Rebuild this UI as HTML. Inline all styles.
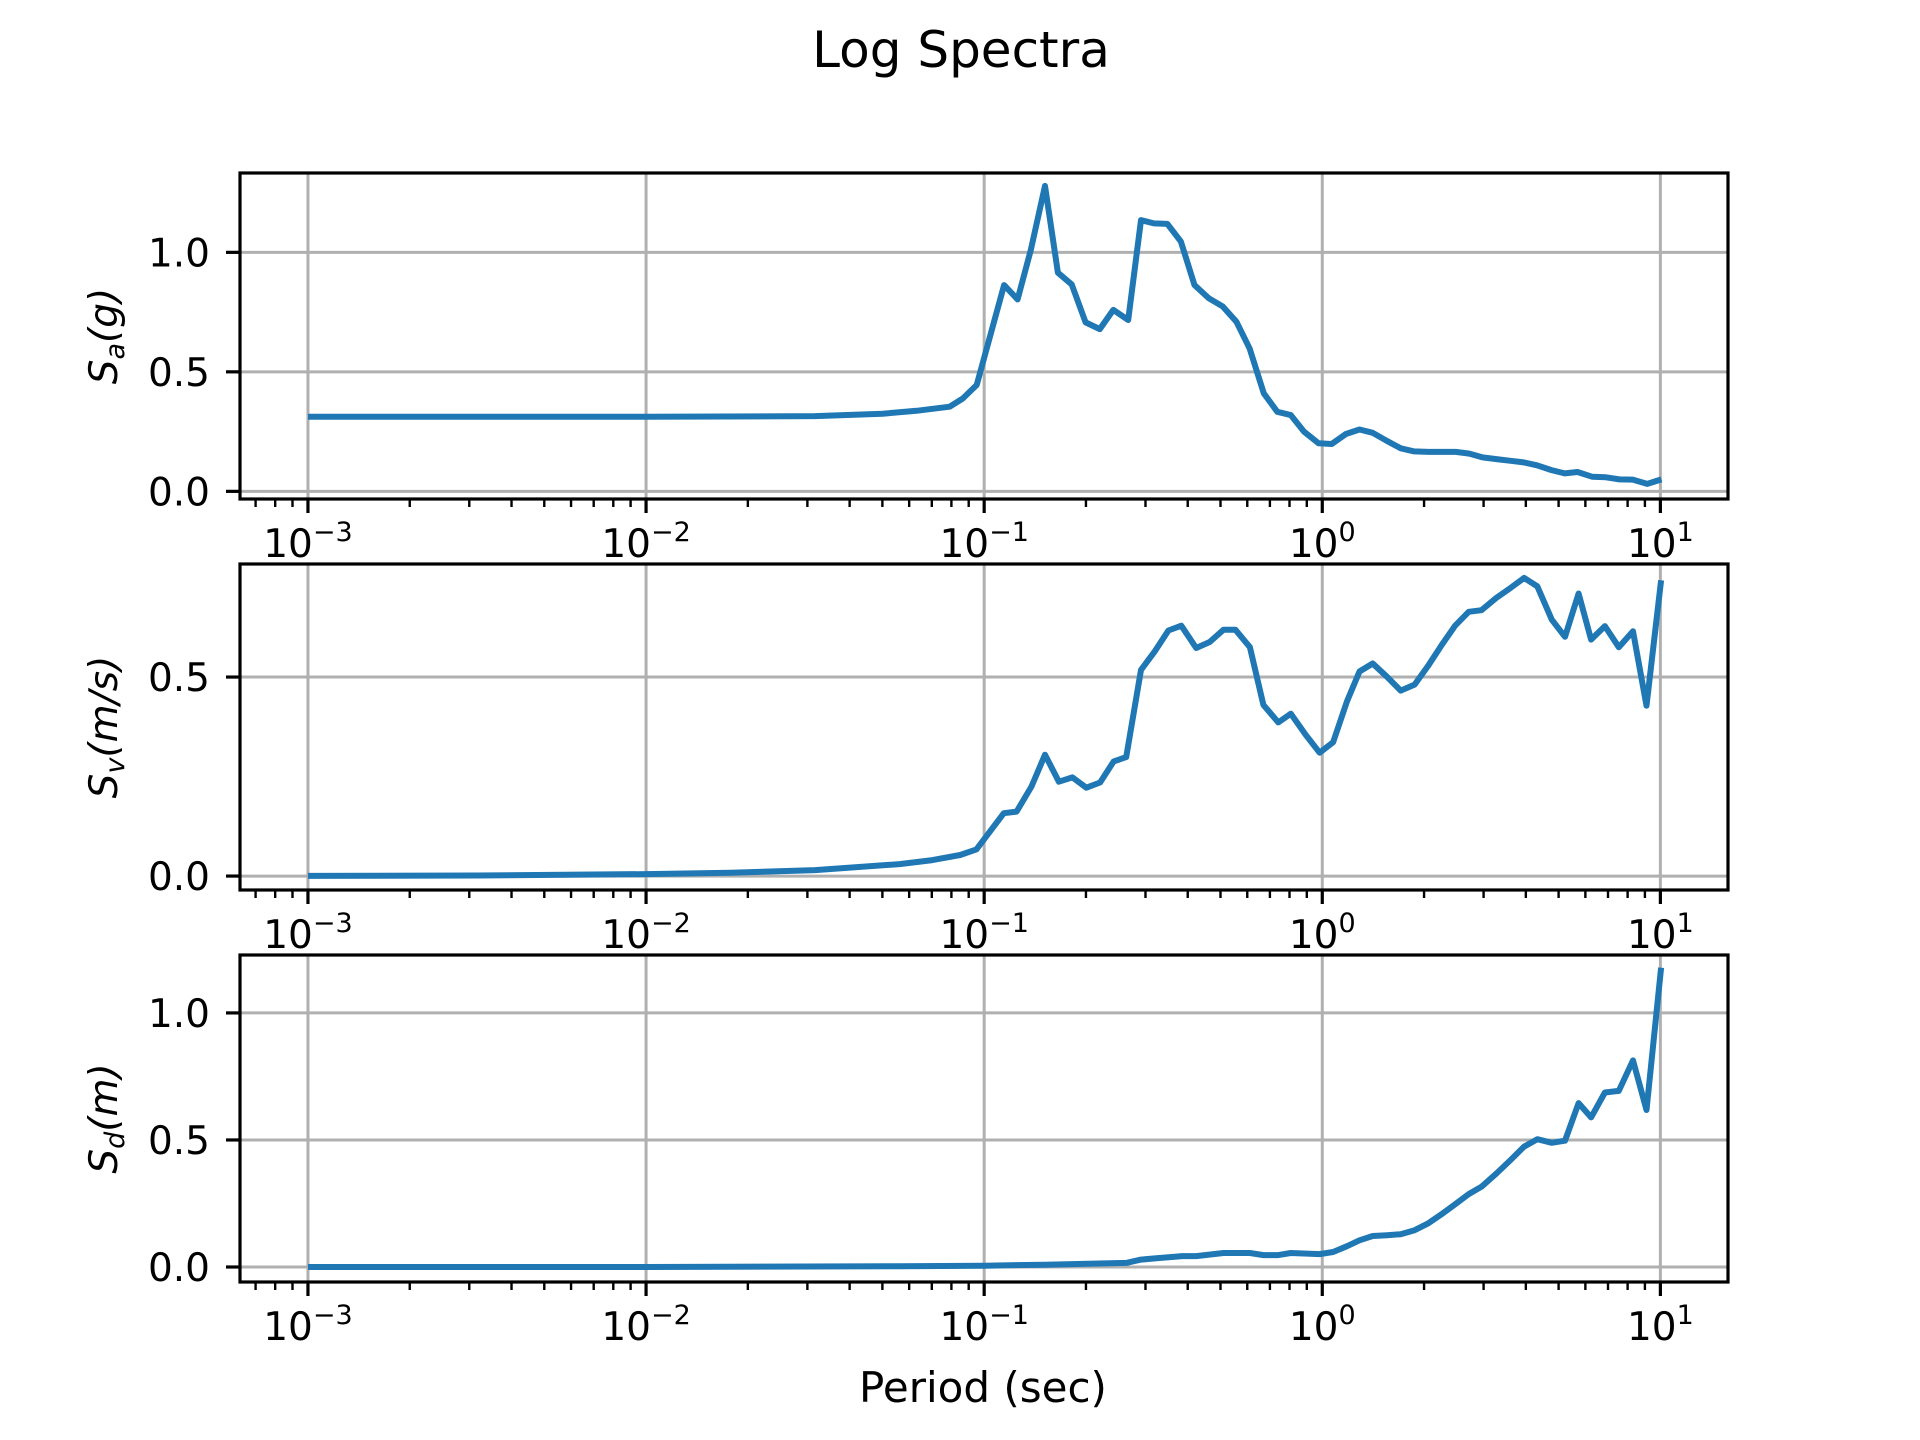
<!DOCTYPE html>
<html><head><meta charset="utf-8"><style>
html,body{margin:0;padding:0;background:#fff;}
svg{display:block;}
text{font-family:"DejaVu Sans","Liberation Sans",sans-serif;fill:#000;}
</style></head><body>
<svg id="fig" width="1920" height="1440" viewBox="0 0 1920 1440" xmlns="http://www.w3.org/2000/svg">
<rect width="1920" height="1440" fill="#fff"/>
<text x="961" y="67" font-size="50" text-anchor="middle">Log Spectra</text>
<text x="983" y="1402" font-size="42" text-anchor="middle">Period (sec)</text>
</svg>
<script>
// ---- data (log10 period, value) ----
const saLogT = [-3,-2,-1.5,-1.3,-1.2,-1.102,-1.063,-1.022,-0.941,-0.901,-0.862,-0.820,-0.782,-0.741,-0.700,-0.658,-0.618,-0.574,-0.536,-0.498,-0.458,-0.418,-0.378,-0.336,-0.294,-0.254,-0.215,-0.173,-0.133,-0.093,-0.054,-0.011,0.028,0.070,0.110,0.149,0.190,0.232,0.272,0.314,0.395,0.435,0.474,0.515,0.557,0.596,0.635,0.678,0.717,0.755,0.799,0.839,0.879,0.918,0.961,1.003];
const saVals = [0.312,0.312,0.315,0.325,0.337,0.354,0.389,0.445,0.863,0.803,1.01,1.278,0.915,0.866,0.707,0.679,0.759,0.717,1.135,1.121,1.119,1.045,0.863,0.808,0.773,0.710,0.598,0.410,0.333,0.319,0.250,0.201,0.198,0.240,0.259,0.245,0.212,0.180,0.167,0.165,0.165,0.158,0.142,0.135,0.128,0.121,0.109,0.089,0.075,0.081,0.061,0.059,0.050,0.049,0.031,0.050];
const svLogT = [-3,-2.5,-2,-1.75,-1.5,-1.25,-1.153,-1.071,-1.023,-0.942,-0.904,-0.860,-0.820,-0.779,-0.739,-0.698,-0.657,-0.617,-0.580,-0.536,-0.495,-0.455,-0.417,-0.373,-0.333,-0.292,-0.257,-0.214,-0.174,-0.130,-0.093,-0.049,-0.008,0.032,0.073,0.110,0.149,0.192,0.232,0.273,0.312,0.352,0.393,0.433,0.471,0.515,0.557,0.597,0.636,0.679,0.718,0.758,0.795,0.836,0.877,0.919,0.959,1.002];
const svVals = [0.0005,0.0015,0.005,0.0085,0.015,0.030,0.040,0.053,0.067,0.158,0.162,0.225,0.305,0.237,0.248,0.222,0.235,0.288,0.299,0.518,0.565,0.617,0.629,0.573,0.588,0.619,0.619,0.575,0.430,0.386,0.408,0.355,0.310,0.336,0.439,0.514,0.534,0.500,0.466,0.481,0.527,0.579,0.629,0.664,0.668,0.699,0.724,0.749,0.728,0.644,0.601,0.710,0.594,0.628,0.575,0.615,0.428,0.743];
const sdLogT = [-3,-2,-1.25,-1.0,-0.820,-0.580,-0.536,-0.495,-0.414,-0.373,-0.292,-0.214,-0.174,-0.130,-0.093,-0.008,0.032,0.073,0.110,0.149,0.192,0.232,0.273,0.312,0.352,0.393,0.433,0.471,0.515,0.557,0.597,0.636,0.679,0.718,0.758,0.795,0.836,0.877,0.919,0.959,1.002];
const sdVals = [0,0,0.003,0.005,0.009,0.016,0.029,0.034,0.043,0.043,0.055,0.055,0.047,0.047,0.055,0.051,0.059,0.082,0.105,0.122,0.125,0.129,0.145,0.171,0.207,0.247,0.287,0.316,0.368,0.421,0.474,0.503,0.489,0.497,0.645,0.589,0.687,0.693,0.813,0.618,1.178];
const xTickExps = [-3,-2,-1,0,1];
const saTicks = [0.0,0.5,1.0];
const svTicks = [0.0,0.5];
const sdTicks = [0.0,0.5,1.0];

const NS = "http://www.w3.org/2000/svg";
const svg = document.getElementById('fig');
const L = 240, R = 1728, XMIN = -3.201, XMAX = 1.2;
function xs(lt){ return L + (lt - XMIN) / (XMAX - XMIN) * (R - L); }
function mk(tag, attrs, parent){ const e = document.createElementNS(NS, tag); for (const k in attrs) e.setAttribute(k, attrs[k]); (parent||svg).appendChild(e); return e; }

const panels = [
  {key:'sa', top:173, bot:499, ymin:-0.032, ymax:1.332, lt:saLogT, v:saVals, ticks:saTicks, sym:'S', sub:'a', unit:'(g)'},
  {key:'sv', top:564, bot:890, ymin:-0.035, ymax:0.784, lt:svLogT, v:svVals, ticks:svTicks, sym:'S', sub:'v', unit:'(m/s)'},
  {key:'sd', top:955, bot:1282, ymin:-0.059, ymax:1.228, lt:sdLogT, v:sdVals, ticks:sdTicks, sym:'S', sub:'d', unit:'(m)'}
];

panels.forEach(p => {
  const ys = val => p.bot - (val - p.ymin) / (p.ymax - p.ymin) * (p.bot - p.top);
  const g = mk('g', {});
  
  
  xTickExps.forEach(e => {
    const x = xs(e);
    const gl = mk('line', {x1:x, x2:x, y1:p.top, y2:p.bot, stroke:'#b0b0b0', 'stroke-width':3}, g);
    
    
  });
  p.ticks.forEach(t => {
    const y = ys(t);
    const gl = mk('line', {x1:L, x2:R, y1:y, y2:y, stroke:'#b0b0b0', 'stroke-width':3}, g);
    
    
  });
  const pts = p.lt.map((lt, i) => xs(lt).toFixed(1) + ',' + ys(p.v[i]).toFixed(1)).join(' ');
  const line = mk('polyline', {points:pts, fill:'none', stroke:'#1f77b4', 'stroke-width':6, 'stroke-linejoin':'round', 'stroke-linecap':'butt'}, g);
  
  
  const fr = mk('rect', {x:L, y:p.top, width:R-L, height:p.bot-p.top, fill:'none', stroke:'#000', 'stroke-width':3.2}, g);
  
  
  p.ticks.forEach(t => {
    const y = ys(t);
    const tk = mk('line', {x1:L-14, x2:L, y1:y, y2:y, stroke:'#000', 'stroke-width':3.2}, g);
    
    
    const tl = mk('text', {x:210, y:y+14, 'font-size':39, 'text-anchor':'end'}, g);
    tl.textContent = t.toFixed(1);
    
    
  });
  for (let e = -4; e <= 1; e++) {
    for (let m = 2; m <= 9; m++) {
      const lt = e + Math.log10(m);
      if (lt < XMIN || lt > XMAX) continue;
      const x = xs(lt);
      const mt = mk('line', {x1:x, x2:x, y1:p.bot, y2:p.bot+8, stroke:'#000', 'stroke-width':2.4}, g);
      
      
    }
  }
  xTickExps.forEach(e => {
    const x = xs(e);
    const tk = mk('line', {x1:x, x2:x, y1:p.bot, y2:p.bot+14, stroke:'#000', 'stroke-width':3.2}, g);
    
    
    const tl = mk('text', {x:x, y:p.bot+58, 'font-size':39, 'text-anchor':'middle'}, g);
    
    
    const a = document.createElementNS(NS, 'tspan'); a.textContent = '10'; tl.appendChild(a);
    const b = document.createElementNS(NS, 'tspan'); b.setAttribute('dy', '-16'); b.setAttribute('font-size', '27');
    b.textContent = (e < 0 ? '\u2212' + (-e) : String(e)); tl.appendChild(b);
  });
  const cy = (p.top + p.bot) / 2;
  const yl = mk('text', {x:0, y:0, 'font-size':39, 'text-anchor':'middle', transform:'translate(117,' + cy + ') rotate(-90)'}, g);
  
  
  const s1 = document.createElementNS(NS, 'tspan'); s1.setAttribute('font-style', 'italic'); s1.textContent = p.sym; yl.appendChild(s1);
  const s2 = document.createElementNS(NS, 'tspan'); s2.setAttribute('font-style', 'italic'); s2.setAttribute('font-size', '27'); s2.setAttribute('dy', '7'); s2.textContent = p.sub; yl.appendChild(s2);
  const s3 = document.createElementNS(NS, 'tspan'); s3.setAttribute('font-style', 'italic'); s3.setAttribute('dy', '-7'); s3.textContent = p.unit; yl.appendChild(s3);
});
</script>
</body></html>
